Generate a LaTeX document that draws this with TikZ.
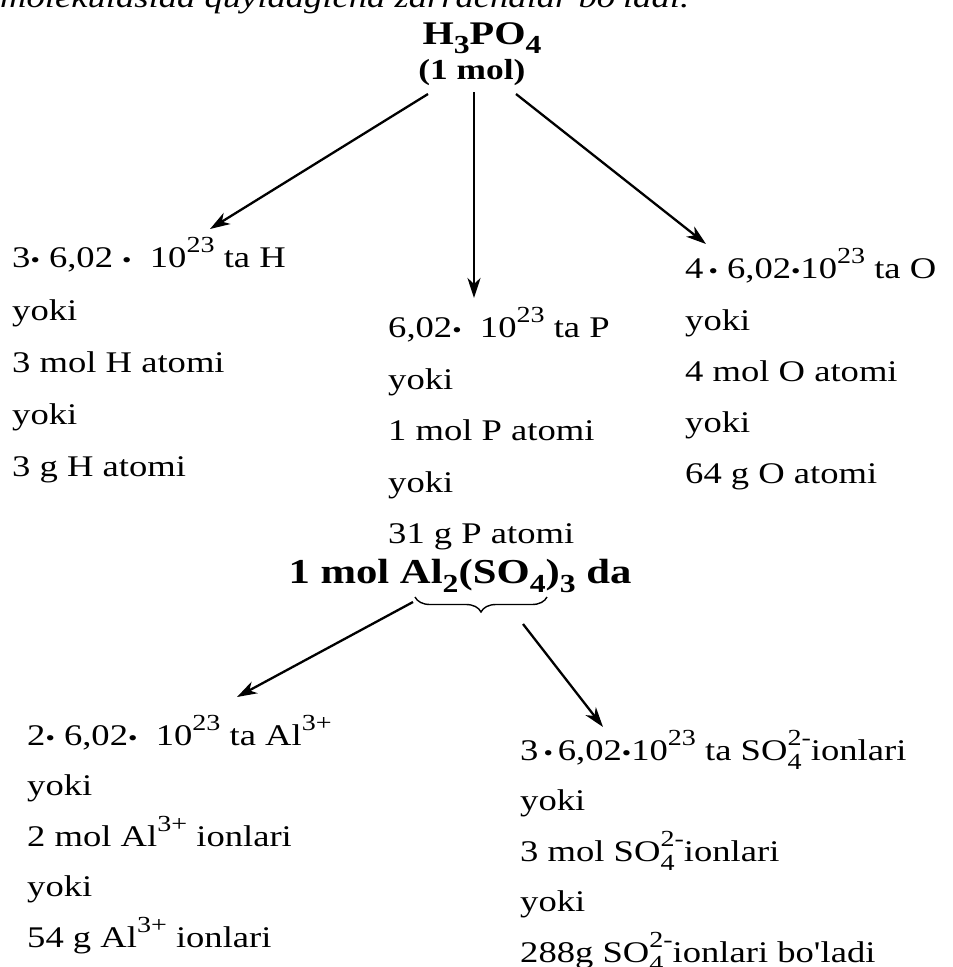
\documentclass[tikz,border=0pt]{standalone}
\usepackage{fontspec}
\setmainfont{Liberation Serif}[FakeStretch=1.22]
\newfontfamily\rawserif{Liberation Serif}[FakeStretch=1.22]
\usetikzlibrary{arrows.meta,decorations.pathreplacing}
\newcommand\sups[1]{\raisebox{0.47em}{\fontsize{23}{23}\selectfont #1}}
\newcommand\subsc[1]{\raisebox{-0.3em}{\fontsize{23}{23}\selectfont #1}}
\newcommand\bsub[1]{\raisebox{-0.28em}{\fontsize{26}{26}\selectfont #1}}
\newcommand\so{SO\rlap{\subsc{4}}\sups{2-}}
\newcommand\dt{{\fontsize{22}{22}\selectfont •}}
\newcommand\apo{{\rawserif'}}
\tikzset{
  txt/.style={anchor=base west, inner sep=0pt, font=\fontsize{30}{31}\selectfont},
  ttl/.style={anchor=base, inner sep=0pt, font=\fontsize{33}{35}\selectfont\bfseries},
  arr/.style={line width=2.3pt, -{Stealth[length=20pt,width=13pt,inset=6pt]}},
  brc/.style={line width=1.4pt, decorate, decoration={brace, mirror, amplitude=15pt}}
}
\begin{document}
\begin{tikzpicture}[x=1pt,y=-1pt]
\useasboundingbox (0,0) rectangle (953,967);
% cut-off top line
\node[txt, font=\fontsize{30}{31}\selectfont\itshape] (top) at (0,7) {molekulasida quyidagicha zarrachalar bo\apo ladi.};
% titles
\node[ttl] (t1) at (482,44) {H\bsub{3}PO\bsub{4}};
\node[ttl, font=\fontsize{29}{30}\selectfont\bfseries] (t2) at (472,79) {(1 mol)};
% left column
\node[txt] (h1) at (12,267) {3\dt\ 6,02 \dt\ \ 10\sups{23} ta H};
\node[txt] (h2) at (12,320) {yoki};
\node[txt] (h3) at (12,372) {3 mol H atomi};
\node[txt] (h4) at (12,424) {yoki};
\node[txt] (h5) at (12,476) {3 g H atomi};
% middle column
\node[txt] (p1) at (388,337) {6,02\dt\ \ 10\sups{23} ta P};
\node[txt] (p2) at (388,389) {yoki};
\node[txt] (p3) at (388,440) {1 mol P atomi};
\node[txt] (p4) at (388,492) {yoki};
\node[txt] (p5) at (388,543) {31 g P atomi};
% right column
\node[txt] (o1) at (685,278) {4\,\dt\ 6,02\dt10\sups{23} ta O};
\node[txt] (o2) at (685,330) {yoki};
\node[txt] (o3) at (685,381) {4 mol O atomi};
\node[txt] (o4) at (685,432) {yoki};
\node[txt] (o5) at (685,483) {64 g O atomi};
% arrows top
\coordinate (sL) at (428,94);
\coordinate (sM) at (474,92);
\coordinate (sR) at (516,94);
\coordinate (eL) at (210,229);
\coordinate (eM) at (474,298);
\coordinate (eR) at (706,244);
\draw[arr] (sL) -- (eL);
\draw[arr, line width=2.7pt] (sM) -- (eM);
\draw[arr] (sR) -- (eR);
% second title
\node[ttl, font=\fontsize{35}{37}\selectfont\bfseries] (t3) at (460,583) {1 mol Al\bsub{2}(SO\bsub{4})\bsub{3} da};
\coordinate (bL) at (415,597);
\coordinate (bR) at (547,597);
\draw[brc] (bL) -- (bR);
\coordinate (s2L) at (413,602);
\coordinate (s2R) at (523,624);
\coordinate (e2L) at (237,697);
\coordinate (e2R) at (603,727);
\draw[arr] (s2L) -- (e2L);
\draw[arr] (s2R) -- (e2R);
% bottom left
\node[txt] (a1) at (27,745) {2\dt\ 6,02\dt\ \ 10\sups{23} ta Al\sups{3+}};
\node[txt] (a2) at (27,795) {yoki};
\node[txt] (a3) at (27,846) {2 mol Al\sups{3+} ionlari};
\node[txt] (a4) at (27,896) {yoki};
\node[txt] (a5) at (27,947) {54 g Al\sups{3+} ionlari};
% bottom right
\node[txt] (s1) at (520,760) {3\,\dt\,6,02\dt10\sups{23} ta \so ionlari};
\node[txt] (s2) at (520,810) {yoki};
\node[txt] (s3) at (520,861) {3 mol \so ionlari};
\node[txt] (s4) at (520,911) {yoki};
\node[txt] (s5) at (520,962) {288g \so ionlari bo\apo ladi};
\end{tikzpicture}
\end{document}
